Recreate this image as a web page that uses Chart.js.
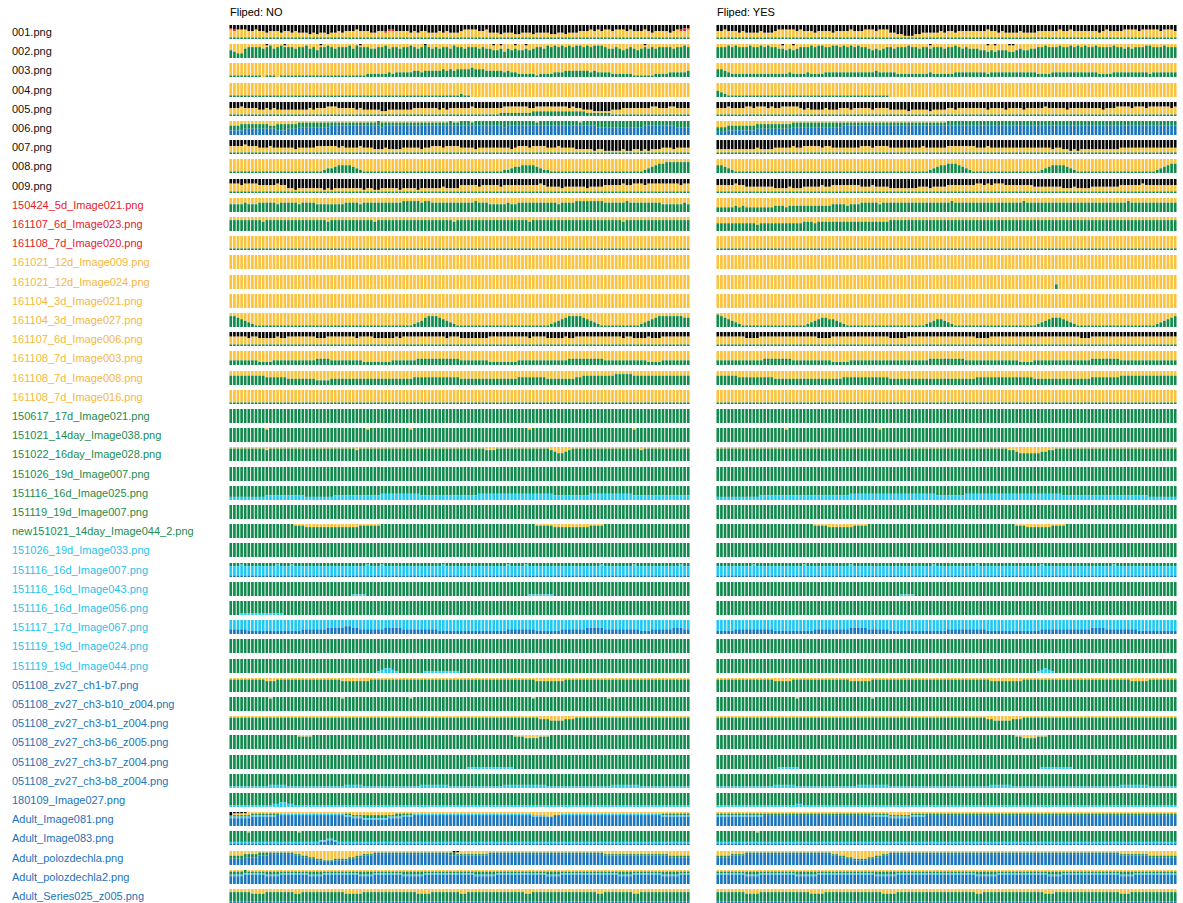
<!DOCTYPE html>
<html>
<head>
<meta charset="utf-8">
<script src="https://cdn.jsdelivr.net/npm/chart.js@4.4.1/dist/chart.umd.min.js"></script>
<style>
  body { margin: 0; background: #fff; width: 1183px; height: 903px; overflow: hidden; position: relative;
         font-family: "Liberation Sans", Arial, sans-serif; }
  .lbl { position: absolute; left: 12px; font-size: 11px; line-height: 14px; white-space: nowrap; }
  .ttl { position: absolute; top: 5px; font-size: 11px; line-height: 14px; color: #000; }
  canvas { position: absolute; }
</style>
</head>
<body>
<script>
// one row per image, one panel per flip setting
const rowLabels = [
  '001.png', '002.png', '003.png', '004.png', '005.png', '006.png', '007.png', '008.png', '009.png',
  '150424_5d_Image021.png', '161107_6d_Image023.png', '161108_7d_Image020.png',
  '161021_12d_Image009.png', '161021_12d_Image024.png', '161104_3d_Image021.png', '161104_3d_Image027.png',
  '161107_6d_Image006.png', '161108_7d_Image003.png', '161108_7d_Image008.png', '161108_7d_Image016.png',
  '150617_17d_Image021.png', '151021_14day_Image038.png', '151022_16day_Image028.png', '151026_19d_Image007.png',
  '151116_16d_Image025.png', '151119_19d_Image007.png', 'new151021_14day_Image044_2.png',
  '151026_19d_Image033.png', '151116_16d_Image007.png', '151116_16d_Image043.png', '151116_16d_Image056.png',
  '151117_17d_Image067.png', '151119_19d_Image024.png', '151119_19d_Image044.png',
  '051108_zv27_ch1-b7.png', '051108_zv27_ch3-b10_z004.png', '051108_zv27_ch3-b1_z004.png',
  '051108_zv27_ch3-b6_z005.png', '051108_zv27_ch3-b7_z004.png', '051108_zv27_ch3-b8_z004.png',
  '180109_Image027.png', 'Adult_Image081.png', 'Adult_Image083.png', 'Adult_polozdechla.png',
  'Adult_polozdechla2.png', 'Adult_Series025_z005.png'
];
const rowGroups = [
  'k','k','k','k','k','k','k','k','k',
  'r','r','r',
  'y','y','y','y','y','y','y','y',
  'g','g','g','g','g','g','g',
  'c','c','c','c','c','c','c',
  'b','b','b','b','b','b','b','b','b','b','b','b'
];
const panelTitles = ['Fliped: NO', 'Fliped: YES'];
const classNames = { b: 'blue', c: 'cyan', g: 'green', y: 'yellow', r: 'red', k: 'black' };

// each panel: class, top edge of that class per bar (0-9), ..., last class fills to the top
// "d*n" = n bars at level d
const flipNo = [
  ['g','1*128','y','65666556 55455545 54544434 34434454 55565554 45545555 55454554 44545444 56666556 44434443 34443444 43344344 45556565 66566656 55565455 55456556','r','76666556 55455545 54544434 34434454 55565554 45556655 55454554 44545444 56666556 44434443 34443444 43344344 45556565 66566656 55565455 55456677','k'],
  ['g','54336777 76786787 77677867 57787677 78687776 67786776 77876787 67677687 76777676 65564656 55656776 87878787 88787888 76676567 65676767 77767787','y','99999999 99899998 99999999 98999999 99998999 99999999 99999989 99999999 99999999 98989998 99899999 99999999 99999999 99999999 99989999 99999999','k'],
  ['g','11111111 10111011 11111111 11111111 11111122 22223233 33344344 44454545 55565554 44443433 22222122 22333444 44443433 33222222 11111122 22333334','y'],
  ['g','1*64 21100000 0*56','y'],
  ['g','1*72 11122222 22223333 33333333 33322222 22111111 1*16','y','55565555 44545444 44444454 55566655 55545444 44334444 44455555 55454555 55565555 55556666 66655666 66666656 55444333 33444555 55555665 55665555','k'],
  ['b','33334444 44444333 44455555 55556666 66666666 66566666 66666666 66666666 66666666 66665666 66666666 66666666 66666655 55555555 55566666 66665555','g','66677777 77766777 77788888 88888888 88888888 89888888 88888888 88888988 99989999 99999999 99999899 99999999 98999999 99999999 99999999 99999999','y'],
  ['g','1*128','y','55556555 44454444 44344444 55555545 44445444 33343333 44444344 55545555 44443444 44444434 55545555 44454444 33333233 22222322 33232333 44434444','k'],
  ['g','1*24 11233455 55432111 1*32 11112234 45555432 21111111 1*16 11123456 67777777','y'],
  ['g','1*128','y','66656666 55555655 33233333 33232333 33333233 22333332 33332333 33343333 55555455 55545555 55555565 44443444 44434444 55555655 66656666 66666566','k'],
  ['g','55556555 66666566 66656666 55555555 66665666 66666666 77777677 66666666 66667666 55555655 66666666 66656666 77777777 66666676 66666666 55555565','y'],
  ['g','77777777 76777777 77777777 77767777 77777777 67777777 77777777 77777767 77777777 77777777 77767777 77777777 77777777 77777677 77777777 77777777','y'],
  ['g','1*128','y'],
  ['y'],
  ['y'],
  ['y'],
  ['g','77654321 1*40 11123467 77654321 1*24 12345677 77654321 1*8 11234567 77777766','y'],
  ['g','1*128','y','66666566 55555655 66666666 55566666 66656666 55555565 66666666 66665666 55555555 66666666 66656666 55555655 66666666 66666566 55556555 66666666','k'],
  ['g','33333333 22223333 33333333 44443333 33333222 22222333 33334444 44444444 33333333 22222222 33333333 33333344 44444444 33333333 33332222 33333333','y'],
  ['g','66666666 66555555 44444444 33334444 44444444 44444444 44455555 55555555 44444444 44444444 55555555 44444444 55666666 66677777 66666666 66666666','y'],
  ['g','1*128','y'],
  ['g'],
  ['g','99999999 99899999 99999999 99999999 99999989 99999999 99899999 99999999 99999999 99999999 99989999 99999999 99999999 99999999 89999999 99999999','y'],
  ['g','88888888 88788888 88888888 88888888 88878888 88888888 88888888 88888888 88888887 77888888 88888888 87655678 88888888 88888888 88788888 88888888','y'],
  ['g'],
  ['c','22222222 22333333 33333222 22222333 33333333 33444444 44444333 33333333 33333444 44444444 44444444 44333333 33334444 44444444 33333333 33333333','g'],
  ['g'],
  ['g','99999999 99999999 99888777 77777777 77778888 88999999 99999999 99999999 99999999 99999999 99999888 88777777 77778888 99999999 99999999 99999999','y'],
  ['g'],
  ['b','1*128','c','77787777 77777877 78777777 77777777 77777787 77877777 77777777 77787777 77777777 77777877 77877777 77777777 77777778 77777777 87777777 77777877','g'],
  ['c','0*32 00111100 0*40 00011111 11000000 0*32','g'],
  ['c','00011111 11111110 0*112','g'],
  ['b','33333222 22222222 22223333 33344444 55443333 33344444 33333333 33222222 22222222 22222333 33333222 22223333 33344444 33333333 33222333 33344433','c'],
  ['g'],
  ['c','0*40 01233210 00000011 11111111 0*64','g'],
  ['g','88888888 88777888 88888888 88888887 77777778 88888888 88888888 88888888 88888888 88888888 88888777 77777888 88888888 88888888 88888888 88888888','y'],
  ['g','99999999 99989999 99999999 99999998 99999999 99999999 99899999 99999999 99999999 99999999 99998999 99999999 99999999 98999999 99999999 99999999','y'],
  ['g','8*80 88888877 76666777 8*32','y'],
  ['g','9*16 99988889 9*48 99999998 88777788 89999999 9*32','y'],
  ['c','0*64 00111111 11111110 0*48','g'],
  ['c','11111111 11122222 11111111 11111111 22222111 11111111 11111222 22222111 11111111 11112222 22222222 11111111 11111111 11222222 22111111 11111111','g'],
  ['c','11111111 11112233 22111111 1*104','g'],
  ['b','55555566 66666777 77777777 77777777 66555444 44445555 66677777 77777777 77777777 77777777 77776666 66777777 77777777 77777777 77777777 66666666','c','66666677 77777788 88888888 88888888 77666555 55556666 77788888 88888888 88888888 88888888 88887777 66778888 88888888 88888888 88888888 77777777','g','77777788 88888888 88888888 88888888 88777777 77777788 88888888 88888888 88888888 88888888 88887777 66778888 88888888 88888888 88888888 88888888','y','78888999 9*120','k'],
  ['b','1*24 12233211 1*96','c','2*24 23344322 2*96','g','99999899 99999999 99989999 9*104','y'],
  ['b','44445555 66677777 77665544 33222333 34455666 77777777 77777777 77777666 66666666 77777777 77777777 77777777 77777777 66666666 66666666 66555555','g','66667777 88888888 88776655 44333444 45566777 88888888 88888888 88888887 77777777 88888888 88888888 88888888 88888888 77777777 77777777 77666666','y','9*56 99999988 9*64','k'],
  ['b','55556666 66555566 66666655 55666666 66665555 66666666 55555566 66666666 66665555 55666666 66666666 55556666 66666666 66665555 66666666 55555666','c','66667777 77666677 77777766 66777777 77776666 77777777 66666677 77777777 77776666 66777777 77777777 66667777 77777777 77776666 77777777 66666777','g','88889888 8*120','y'],
  ['b','1*128','g','77777766 66777777 77667777 77777777 66666777 77777777 77776666 77777777 66777777 77777777 77667777 77777777 77777766 77777777 66777777 77777777','y']
];

const flipYes = [
  ['g','1*128','y','55655545 44445444 56666656 55545555 45555655 56665666 44332223 34444454 55455555 55565545 44445444 45555556 55655555 55456555 56666566 66656665','k'],
  ['g','77787877 78778787 76656567 77878877 88787878 77656567 76777877 67767776 77876766 65545455 54456556 67787778 77878787 78777787 76767778 87778777','y','99999999 99999999 99899899 99999999 99999999 99999999 99999999 99989999 99999999 99989899 98899999 99999999 99999999 99999999 99999999 99999999','k'],
  ['g','55432222 22222222 22223222 23222233 33333333 33334333 33222222 22232222 22333333 33323333 33333333 32222333 33333333 33222233 33333333 23333333','y'],
  ['g','43211111 1*40 0*80','y'],
  ['g','1*128','y','55565555 66566656 55666665 45444454 44555455 55545555 44444344 44434444 55455555 55545555 45555455 55565555 54555555 55545556 66656665 66666656','k'],
  ['b','22233333 33344444 44444555 55555555 55566666 6*88','g','55566666 66677777 77777888 8*40 9*64','y'],
  ['g','1*128','y','33333333 33343333 44444544 55555455 44444444 55545555 44444444 45444444 55555555 44454444 44444444 44444344 33232333 33333333 44444444 44444444','k'],
  ['g','55432111 1*48 11123455 66654321 1*16 11234555 54321111 1*16 11234566','y'],
  ['g','1*128','y','55555655 44444444 33334333 44444544 55555555 44454444 33333333 44434444 55555555 66565666 55555555 44444444 33343333 44444444 55555565 55555555','k'],
  ['g','33333434 33333333 44434444 44444444 55554555 66666566 66666666 66666666 67666666 66666666 66666766 66666666 66666666 66666666 66766666 66666666','y'],
  ['g','55555555 55545555 55555555 66656666 66666666 66666666 7*80','y'],
  ['g','1*128','y'],
  ['y'],
  ['g','0*88 00000030 0*32','y'],
  ['y'],
  ['g','87654321 1*16 12345665 54321111 1*16 11234554 32111111 1*16 12345666 54321111 1*16 11234567','y'],
  ['g','1*128','y','66666666 55556666 66666666 66665555 66666666 66666666 55555666 66666666 66666666 55556666 66666666 66666666 66666555 66666666 66666666 66666666','k'],
  ['g','33333333 33333444 44444333 33333333 22222333 33333333 33333333 33344444 44444333 33333333 33332222 33333333 33333333 44444444 33333333 33333333','y'],
  ['g','66666655 55555555 44444444 44444444 44455555 55555555 44444444 44444444 44444444 55555555 55555555 44444444 44444444 55555555 66666666 66666666','y'],
  ['g','1*128','y'],
  ['g'],
  ['g','99999999 99999999 99989999 99999999 99999999 99999899 9*80','y'],
  ['g','8*80 87765555 55667788 8*32','y'],
  ['g'],
  ['c','22222222 22223333 33333333 33333333 33333444 44444444 44444444 44444333 33333444 44444444 44444444 44444444 33333333 33333333 33333333 22222222','g'],
  ['g'],
  ['g','99999999 99999999 99999999 99988887 77777788 88999999 99999999 99999999 99999999 99999999 99988877 77777888 89999999 99999999 99999999 99999999','y'],
  ['g'],
  ['b','1*128','c','77777777 77877777 77777777 87777777 77777877 77777777 77777777 77778777 77777777 87777777 77777777 77877777 77777777 77777787 77777777 77777777','g'],
  ['c','0*48 00011110 0*72','g'],
  ['g'],
  ['b','22222333 33333333 22222222 22233333 33333444 44333333 22222222 22222222 33333333 33322222 22222222 22333333 33333333 44443333 33333222 22222222','c'],
  ['g'],
  ['c','0*80 00000000 01232100 0*32','g'],
  ['g','88888888 88888888 77777888 88888888 88888777 77788888 88888888 88888888 88888888 88887777 77777888 88888888 88888888 88888888 88877777 88888888','y'],
  ['g','99999999 99999999 99999989 99999999 99999999 99989999 9*80','y'],
  ['g','8*72 88877666 66777888 8*40','y'],
  ['g','9*80 99988777 78889999 9*32','y'],
  ['c','0*16 01111110 0*64 00111111 11100000 0*24','g'],
  ['c','11111111 11111111 22222211 11111111 11111112 22222222 11111111 11111111 11111111 11112222 22111111 11111111 11111111 11111111 22222222 11111111','g'],
  ['c','11111111 11111111 11111122 11111111 1*96','g'],
  ['b','66666666 66666777 77777777 77777777 77777777 77766666 55555566 66777777 7*64','c','77777777 77777777 77777777 77777777 77777777 77777777 66666677 77777777 7*64','g','8*48 77777788 8*72','y'],
  ['b','1*128','c','2*128','g','99999999 99989999 9*112','y'],
  ['b','55556666 77777777 77777777 77777777 66554433 33445566 77777777 77777777 77777777 77777777 77777777 77777777 77777777 77777777 66666666 55555555','g','66667777 88888888 88888888 88888888 77665544 44556677 88888888 88888888 88888888 88888888 88888888 88888888 88888888 88888888 77777777 66666666','y'],
  ['b','66666666 55556666 66666655 55556666 66666666 66665555 55666666 66666666 66666666 55555566 66666666 66665555 66666666 66666666 55556666 66666666','c','77777777 66667777 77777766 66667777 77777777 77776666 66777777 77777777 77777777 66666677 77777777 77776666 77777777 77777777 66667777 77777777','g','8*128','y'],
  ['b','1*128','g','77777777 66667777 77777777 77666677 77777777 77777766 66777777 77777777 77777777 66777777 77777777 77766677 77777777 77777777 66677777 77777777','y']
];

const N_BARS = 128;
const barIndex = Array.from({ length: N_BARS }, (_, i) => i + 1);

const layerColors = { b: '#1b75bc', c: '#21c9f2', g: '#138a4d', y: '#fbc33d', r: '#d8262a', k: '#060606' };
const labelColors = { k: '#111111', r: '#e8202a', y: '#f5b83d', g: '#1b8c4f', c: '#1fc4ec', b: '#1c74b8' };

const ROW_TOP = 25, ROW_STEP = 19.2, ROW_H = 14;
const PANEL_X = [229, 716], PANEL_W = 461;

function expand(s, where) {
  const out = [];
  s.trim().split(/\s+/).forEach(t => {
    if (t.includes('*')) {
      const [d, n] = t.split('*');
      for (let i = 0; i < +n; i++) out.push(+d);
    } else {
      for (const ch of t) out.push(+ch);
    }
  });
  if (out.length !== N_BARS) console.error('bad length ' + out.length + ' at ' + where);
  return out;
}

function buildDatasets(spec, where) {
  const sets = [];
  let prev = barIndex.map(() => 0);
  for (let i = 0; i < spec.length; i += 2) {
    const cls = spec[i];
    const top = i + 1 < spec.length ? expand(spec[i + 1], where) : barIndex.map(() => 9);
    sets.push({
      label: classNames[cls],
      data: top.map((t, j) => Math.max(0, t - prev[j]) / 9 * 100),
      backgroundColor: layerColors[cls],
      borderWidth: 0,
      barPercentage: 0.74,
      categoryPercentage: 1.0
    });
    prev = top;
  }
  return sets;
}

function drawPanel(x, y, spec, where) {
  const cv = document.createElement('canvas');
  cv.width = PANEL_W; cv.height = ROW_H;
  cv.style.left = x + 'px'; cv.style.top = y + 'px';
  cv.style.width = PANEL_W + 'px'; cv.style.height = ROW_H + 'px';
  document.body.appendChild(cv);
  new Chart(cv.getContext('2d'), {
    type: 'bar',
    data: { labels: barIndex, datasets: buildDatasets(spec, where) },
    options: {
      responsive: false,
      animation: false,
      devicePixelRatio: 1,
      events: [],
      layout: { padding: 0 },
      plugins: { legend: { display: false }, tooltip: { enabled: false } },
      scales: {
        x: { display: false, stacked: true, grid: { display: false } },
        y: { display: false, stacked: true, min: 0, max: 100 }
      }
    }
  });
}

panelTitles.forEach((t, p) => {
  const d = document.createElement('div');
  d.className = 'ttl';
  d.style.left = (PANEL_X[p] + 1) + 'px';
  d.textContent = t;
  document.body.appendChild(d);
});

rowLabels.forEach((name, i) => {
  const top = Math.round(ROW_TOP + i * ROW_STEP);
  const d = document.createElement('div');
  d.className = 'lbl';
  d.style.top = top + 'px';
  d.style.color = labelColors[rowGroups[i]];
  d.textContent = name;
  document.body.appendChild(d);
  drawPanel(PANEL_X[0], top, flipNo[i], 'NO row ' + (i + 1));
  drawPanel(PANEL_X[1], top, flipYes[i], 'YES row ' + (i + 1));
});
</script>
</body>
</html>
